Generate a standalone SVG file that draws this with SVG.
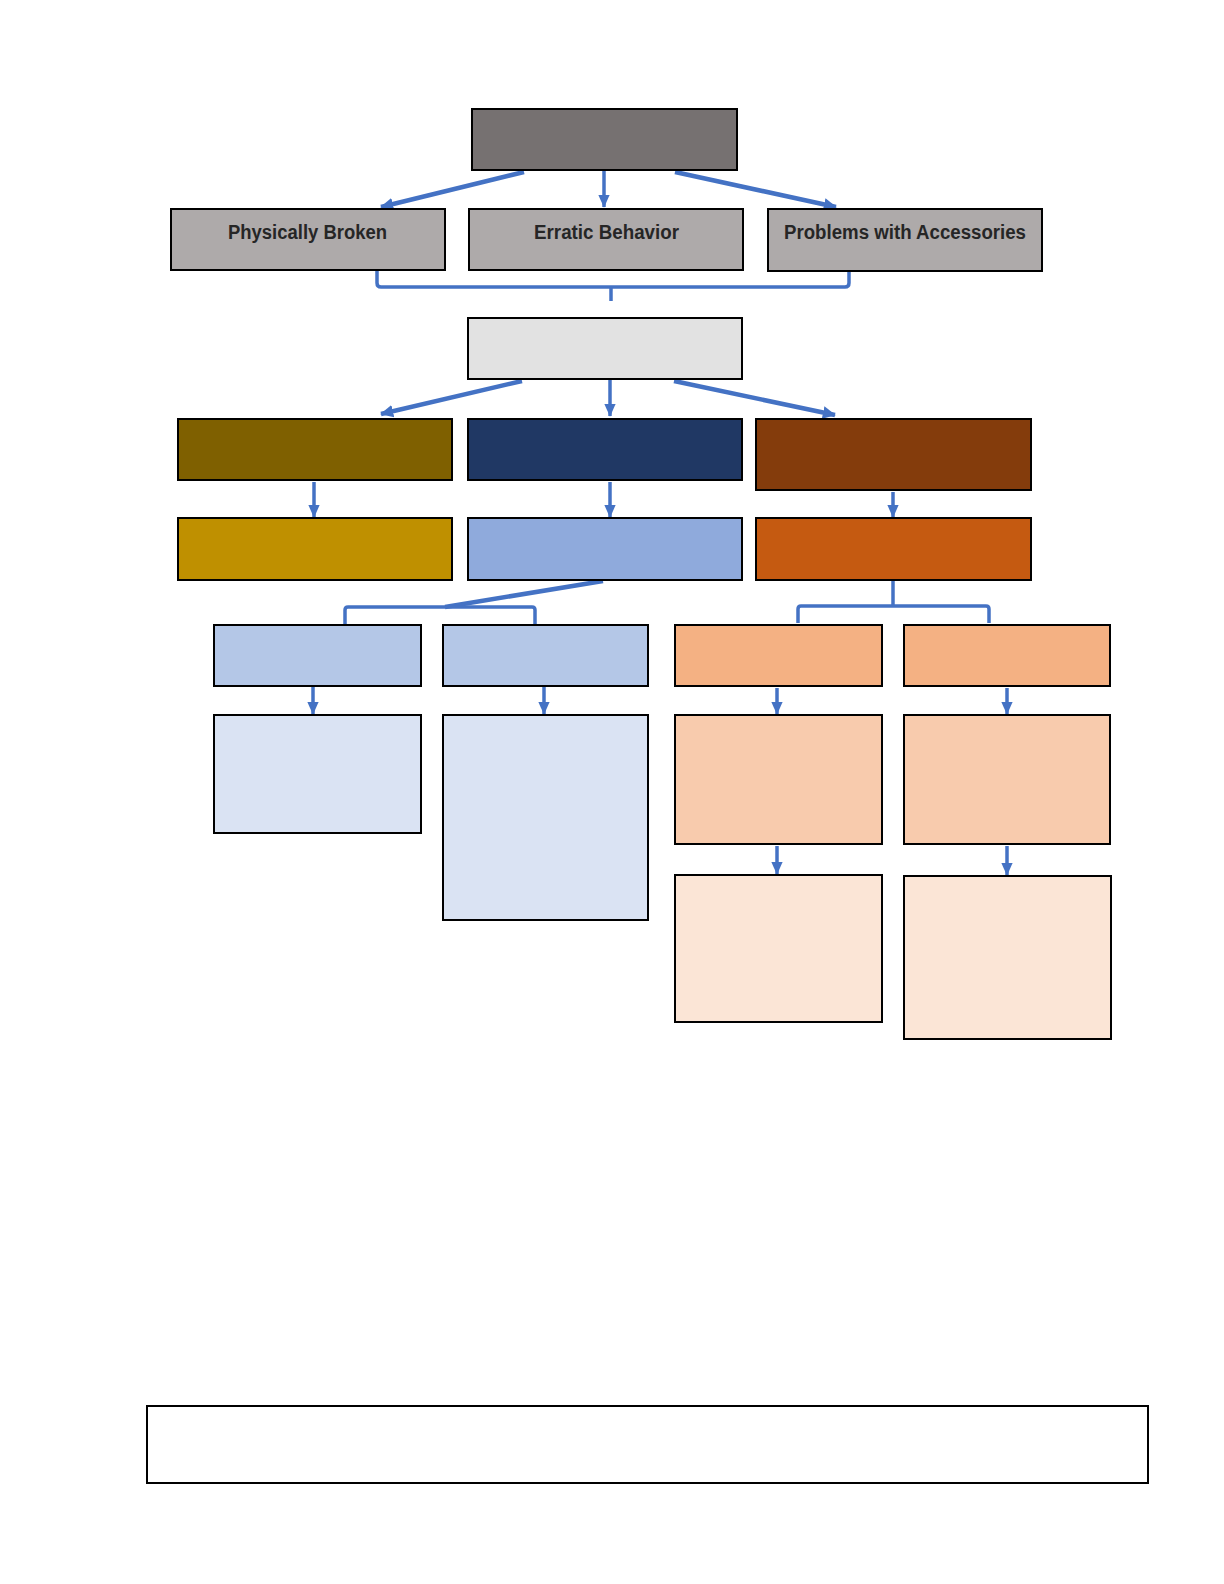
<svg xmlns="http://www.w3.org/2000/svg" width="1224" height="1584" viewBox="0 0 1224 1584">
<style>
.box{stroke:#000;stroke-width:2}
.c{fill:none;stroke:#4472C4;stroke-width:3.5;stroke-linejoin:round}
.ca{fill:none;stroke:#4472C4;stroke-width:3.5;marker-end:url(#ah)}
.cd{fill:none;stroke:#4472C4;stroke-width:4.5;marker-end:url(#ahd)}
.t{font-family:"Liberation Sans",Arial,sans-serif;font-weight:bold;font-size:20px;fill:#262626;text-anchor:middle}
</style>
<defs>
<marker id="ah" markerWidth="5" markerHeight="5" refX="3.4" refY="2.2" orient="auto" markerUnits="strokeWidth">
<path d="M0,0.6 L3.6,2.2 L0,3.8 Z" fill="#4472C4"/>
</marker>
<marker id="ahd" markerWidth="4" markerHeight="4" refX="2.7" refY="1.7" orient="auto" markerUnits="strokeWidth">
<path d="M0,0.3 L2.9,1.7 L0,3.1 Z" fill="#4472C4"/>
</marker>
</defs>
<rect width="1224" height="1584" fill="#fff"/>
<g id="connectors">
<line class="cd" x1="524" y1="172" x2="381" y2="207"/>
<line class="ca" x1="604" y1="170" x2="604" y2="207"/>
<line class="cd" x1="675" y1="172" x2="836" y2="207"/>
<path class="c" d="M377,271 V283 Q377,287 381,287 H845 Q849,287 849,283 V271"/>
<line class="c" x1="611" y1="287" x2="611" y2="301"/>
<line class="cd" x1="522" y1="381" x2="381" y2="414"/>
<line class="ca" x1="610" y1="380" x2="610" y2="416"/>
<line class="cd" x1="674" y1="381" x2="835" y2="415"/>
<line class="ca" x1="314" y1="482" x2="314" y2="517"/>
<line class="ca" x1="610" y1="482" x2="610" y2="517"/>
<line class="ca" x1="893" y1="492" x2="893" y2="517"/>
<line class="c" x1="603" y1="581" x2="445" y2="607" style="stroke-width:4.5"/>
<path class="c" d="M345,624 V610 Q345,607 348,607 H532 Q535,607 535,610 V624"/>
<line class="c" x1="893" y1="581" x2="893" y2="606"/>
<path class="c" d="M798,623 V609 Q798,606 801,606 H986 Q989,606 989,609 V623"/>
<line class="ca" x1="313" y1="687" x2="313" y2="714"/>
<line class="ca" x1="544" y1="687" x2="544" y2="714"/>
<line class="ca" x1="777" y1="688" x2="777" y2="714"/>
<line class="ca" x1="1007" y1="688" x2="1007" y2="714"/>
<line class="ca" x1="777" y1="846" x2="777" y2="874"/>
<line class="ca" x1="1007" y1="846" x2="1007" y2="875"/>
</g>
<g id="root"><rect class="box" x="472" y="109" width="265" height="61" fill="#767171"/></g>
<g id="physically-broken"><rect class="box" x="171" y="209" width="274" height="61" fill="#AEAAAA"/><text class="t" x="307.5" y="239" textLength="159" lengthAdjust="spacingAndGlyphs">Physically Broken</text></g>
<g id="erratic-behavior"><rect class="box" x="469" y="209" width="274" height="61" fill="#AEAAAA"/><text class="t" x="606.5" y="239" textLength="145" lengthAdjust="spacingAndGlyphs">Erratic Behavior</text></g>
<g id="problems-accessories"><rect class="box" x="768" y="209" width="274" height="62" fill="#AEAAAA"/><text class="t" x="905" y="239" textLength="242" lengthAdjust="spacingAndGlyphs">Problems with Accessories</text></g>
<g id="hub"><rect class="box" x="468" y="318" width="274" height="61" fill="#E2E2E2"/></g>
<g id="olive"><rect class="box" x="178" y="419" width="274" height="61" fill="#7F6000"/></g>
<g id="navy"><rect class="box" x="468" y="419" width="274" height="61" fill="#203864"/></g>
<g id="brown"><rect class="box" x="756" y="419" width="275" height="71" fill="#843C0C"/></g>
<g id="gold"><rect class="box" x="178" y="518" width="274" height="62" fill="#BF9000"/></g>
<g id="lightblue"><rect class="box" x="468" y="518" width="274" height="62" fill="#8FAADC"/></g>
<g id="orange"><rect class="box" x="756" y="518" width="275" height="62" fill="#C55A11"/></g>
<g id="blue-a"><rect class="box" x="214" y="625" width="207" height="61" fill="#B4C7E7"/></g>
<g id="blue-b"><rect class="box" x="443" y="625" width="205" height="61" fill="#B4C7E7"/></g>
<g id="peach-a"><rect class="box" x="675" y="625" width="207" height="61" fill="#F4B183"/></g>
<g id="peach-b"><rect class="box" x="904" y="625" width="206" height="61" fill="#F4B183"/></g>
<g id="pale-blue-a"><rect class="box" x="214" y="715" width="207" height="118" fill="#DAE3F3"/></g>
<g id="pale-blue-b"><rect class="box" x="443" y="715" width="205" height="205" fill="#DAE3F3"/></g>
<g id="pale-peach-a"><rect class="box" x="675" y="715" width="207" height="129" fill="#F8CBAD"/></g>
<g id="pale-peach-b"><rect class="box" x="904" y="715" width="206" height="129" fill="#F8CBAD"/></g>
<g id="light-peach-a"><rect class="box" x="675" y="875" width="207" height="147" fill="#FBE5D6" stroke-width="1.5"/></g>
<g id="light-peach-b"><rect class="box" x="904" y="876" width="207" height="163" fill="#FBE5D6"/></g>
<g id="footer"><rect class="box" x="147" y="1406" width="1001" height="77" fill="#fff"/></g>
</svg>
